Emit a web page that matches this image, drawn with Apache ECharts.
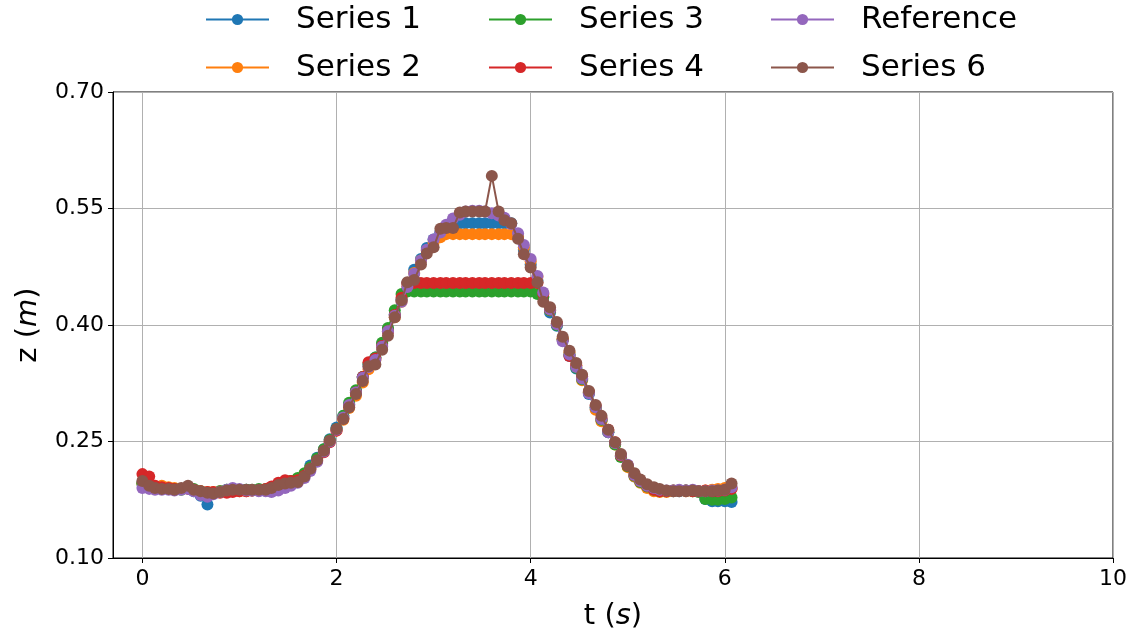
<!DOCTYPE html>
<html>
<head>
<meta charset="utf-8">
<script src="https://cdn.jsdelivr.net/npm/echarts@6/dist/echarts.min.js"></script>
<style>
  html, body { margin: 0; padding: 0; background: #fff; }
  #chart { width: 1141px; height: 633px; }
</style>
</head>
<body>
<div id="chart"></div>
<script>
// sample times (s), 15 Hz
var T = [0.00,0.07,0.13,0.20,0.27,0.33,0.40,0.47,0.53,0.60,
         0.67,0.73,0.80,0.87,0.93,1.00,1.07,1.13,1.20,1.27,
         1.33,1.40,1.47,1.53,1.60,1.67,1.73,1.80,1.87,1.93,
         2.00,2.07,2.13,2.20,2.27,2.33,2.40,2.47,2.53,2.60,
         2.67,2.73,2.80,2.87,2.93,3.00,3.07,3.13,3.20,3.27,
         3.33,3.40,3.47,3.53,3.60,3.67,3.73,3.80,3.87,3.93,
         4.00,4.07,4.13,4.20,4.27,4.33,4.40,4.47,4.53,4.60,
         4.67,4.73,4.80,4.87,4.93,5.00,5.07,5.13,5.20,5.27,
         5.33,5.40,5.47,5.53,5.60,5.67,5.73,5.80,5.87,5.93,
         6.00,6.07];

var series1 = [0.197,0.193,0.190,0.190,0.189,0.189,0.189,0.190,0.186,0.180,
               0.169,0.183,0.186,0.188,0.188,0.188,0.188,0.187,0.187,0.188,
               0.190,0.193,0.196,0.198,0.200,0.207,0.219,0.229,0.240,0.253,
               0.268,0.283,0.298,0.315,0.333,0.349,0.358,0.376,0.395,0.414,
               0.433,0.454,0.471,0.485,0.499,0.510,0.519,0.526,0.531,0.531,
               0.531,0.531,0.531,0.531,0.531,0.531,0.531,0.531,0.515,0.497,
               0.478,0.457,0.436,0.416,0.399,0.381,0.360,0.344,0.331,0.311,
               0.292,0.277,0.262,0.247,0.231,0.218,0.205,0.198,0.192,0.189,
               0.187,0.186,0.186,0.186,0.187,0.187,0.186,0.176,0.173,0.173,
               0.173,0.172];

var series2 = [0.196,0.194,0.192,0.193,0.191,0.190,0.189,0.190,0.188,0.186,
               0.185,0.185,0.186,0.186,0.187,0.186,0.186,0.187,0.187,0.188,
               0.190,0.194,0.197,0.199,0.202,0.208,0.216,0.227,0.239,0.250,
               0.264,0.278,0.293,0.309,0.326,0.343,0.355,0.373,0.391,0.410,
               0.430,0.450,0.467,0.483,0.496,0.506,0.513,0.517,0.517,0.517,
               0.517,0.517,0.517,0.517,0.517,0.517,0.517,0.517,0.514,0.500,
               0.482,0.462,0.440,0.419,0.402,0.383,0.365,0.348,0.329,0.313,
               0.291,0.276,0.264,0.246,0.232,0.217,0.205,0.197,0.190,0.186,
               0.185,0.185,0.186,0.187,0.186,0.186,0.186,0.187,0.188,0.189,
               0.190,0.190];

var series3 = [0.196,0.194,0.191,0.190,0.189,0.189,0.188,0.190,0.189,0.186,
               0.184,0.184,0.186,0.188,0.188,0.188,0.188,0.188,0.189,0.189,
               0.191,0.195,0.197,0.199,0.203,0.209,0.217,0.228,0.240,0.252,
               0.266,0.283,0.300,0.316,0.333,0.350,0.358,0.377,0.396,0.419,
               0.440,0.443,0.443,0.443,0.443,0.443,0.443,0.443,0.443,0.443,
               0.443,0.443,0.443,0.443,0.443,0.443,0.443,0.443,0.443,0.443,
               0.443,0.440,0.436,0.419,0.400,0.381,0.362,0.345,0.330,0.313,
               0.294,0.278,0.262,0.246,0.230,0.218,0.206,0.198,0.192,0.188,
               0.186,0.186,0.187,0.187,0.187,0.186,0.185,0.176,0.175,0.175,
               0.176,0.178];

var series4 = [0.208,0.205,0.193,0.191,0.190,0.189,0.189,0.189,0.188,0.186,
               0.185,0.185,0.184,0.184,0.185,0.186,0.186,0.187,0.187,0.189,
               0.192,0.197,0.200,0.199,0.200,0.206,0.214,0.225,0.236,0.249,
               0.264,0.280,0.296,0.313,0.333,0.352,0.357,0.373,0.392,0.413,
               0.435,0.454,0.454,0.454,0.454,0.454,0.454,0.454,0.454,0.454,
               0.454,0.454,0.454,0.454,0.454,0.454,0.454,0.454,0.454,0.454,
               0.454,0.454,0.440,0.420,0.402,0.381,0.360,0.348,0.334,0.314,
               0.296,0.280,0.265,0.249,0.232,0.219,0.207,0.199,0.193,0.188,
               0.186,0.186,0.187,0.187,0.187,0.186,0.186,0.187,0.186,0.186,
               0.187,0.189];

var reference = [0.190,0.189,0.188,0.188,0.188,0.187,0.188,0.189,0.186,0.181,
                 0.179,0.182,0.185,0.188,0.190,0.189,0.187,0.187,0.186,0.186,
                 0.185,0.187,0.190,0.193,0.197,0.203,0.212,0.224,0.237,0.250,
                 0.265,0.281,0.297,0.313,0.332,0.346,0.355,0.372,0.392,0.412,
                 0.430,0.449,0.466,0.483,0.497,0.510,0.519,0.529,0.537,0.542,
                 0.546,0.547,0.547,0.546,0.544,0.541,0.538,0.530,0.518,0.503,
                 0.485,0.463,0.442,0.420,0.401,0.379,0.362,0.346,0.331,0.312,
                 0.294,0.279,0.262,0.248,0.233,0.220,0.207,0.199,0.193,0.190,
                 0.188,0.187,0.187,0.188,0.187,0.188,0.186,0.186,0.187,0.187,
                 0.188,0.191];

var series6 = [0.199,0.193,0.190,0.189,0.189,0.188,0.190,0.193,0.188,0.186,
               0.184,0.183,0.185,0.187,0.188,0.188,0.188,0.188,0.188,0.188,
               0.190,0.194,0.196,0.197,0.198,0.205,0.215,0.226,0.238,0.251,
               0.266,0.279,0.294,0.311,0.328,0.347,0.349,0.368,0.386,0.410,
               0.432,0.455,0.458,0.478,0.492,0.500,0.524,0.525,0.525,0.545,
               0.546,0.546,0.546,0.546,0.592,0.546,0.535,0.531,0.511,0.491,
               0.474,0.455,0.430,0.423,0.404,0.385,0.367,0.351,0.336,0.315,
               0.297,0.283,0.265,0.249,0.234,0.219,0.209,0.201,0.195,0.191,
               0.189,0.187,0.186,0.186,0.186,0.187,0.186,0.186,0.186,0.187,
               0.188,0.196];

var xTicks = [0, 2, 4, 6, 8, 10];

var names = ['Series 1', 'Series 2', 'Series 3', 'Series 4', 'Reference', 'Series 6'];
var values = [series1, series2, series3, series4, reference, series6];
var colors = ['#1f77b4', '#ff7f0e', '#2ca02c', '#d62728', '#9467bd', '#8c564b'];

var font = 'DejaVu Sans';
var chart = echarts.init(document.getElementById('chart'));

function legendAt(left, items) {
  return {
    orient: 'vertical',
    left: left,
    top: 4,
    padding: 0,
    itemWidth: 63,
    itemHeight: 14,
    itemGap: 17,
    data: items,
    textStyle: { fontFamily: font, fontSize: 31, color: '#000', padding: [0, 0, 0, 22] }
  };
}

var seriesList = names.map(function (name, k) {
  return {
    name: name,
    type: 'line',
    symbol: 'circle',
    symbolSize: 12,
    showSymbol: true,
    color: colors[k],
    lineStyle: { width: 2, color: colors[k] },
    itemStyle: { color: colors[k] },
    z: 2 + k,
    data: T.map(function (t, i) { return [t, values[k][i]]; })
  };
});

var option = {
  animation: false,
  backgroundColor: '#fff',
  legend: [
    legendAt(205, ['Series 1', 'Series 2']),
    legendAt(488, ['Series 3', 'Series 4']),
    legendAt(770, ['Reference', 'Series 6'])
  ],
  grid: {
    left: 113, right: 28, top: 92, bottom: 75,
    outerBoundsMode: 'none',
    containLabel: false,
    show: true, borderColor: '#000', borderWidth: 1
  },
  xAxis: {
    type: 'value',
    min: -0.303,
    max: 10,
    name: '{n|t (}{i|s}{n|)}',
    nameLocation: 'middle',
    nameGap: 44,
    nameTextStyle: {
      rich: {
        n: { fontFamily: font, fontSize: 29, color: '#000' },
        i: { fontFamily: font, fontSize: 29, color: '#000', fontStyle: 'italic' }
      }
    },
    axisLine: { show: true, onZero: false, lineStyle: { color: '#000', width: 1 } },
    axisTick: { show: true, length: 5, lineStyle: { color: '#000' }, customValues: xTicks },
    axisLabel: { fontFamily: font, fontSize: 22, color: '#000', margin: 10, customValues: xTicks },
    splitLine: { show: true, lineStyle: { color: '#b0b0b0', width: 1 } }
  },
  yAxis: {
    type: 'value',
    min: 0.1,
    max: 0.7,
    interval: 0.15,
    name: '{n|z (}{i|m}{n|)}',
    nameLocation: 'middle',
    nameRotate: 90,
    nameGap: 70,
    nameTextStyle: {
      rich: {
        n: { fontFamily: font, fontSize: 29, color: '#000' },
        i: { fontFamily: font, fontSize: 29, color: '#000', fontStyle: 'italic' }
      }
    },
    axisLine: { show: true, onZero: false, lineStyle: { color: '#000', width: 1 } },
    axisTick: { show: true, length: 5, lineStyle: { color: '#000' } },
    axisLabel: {
      fontFamily: font, fontSize: 22, color: '#000', margin: 9,
      formatter: function (v) { return v.toFixed(2); }
    },
    splitLine: { show: true, lineStyle: { color: '#b0b0b0', width: 1 } }
  },
  series: seriesList
};

chart.setOption(option);
</script>
</body>
</html>
